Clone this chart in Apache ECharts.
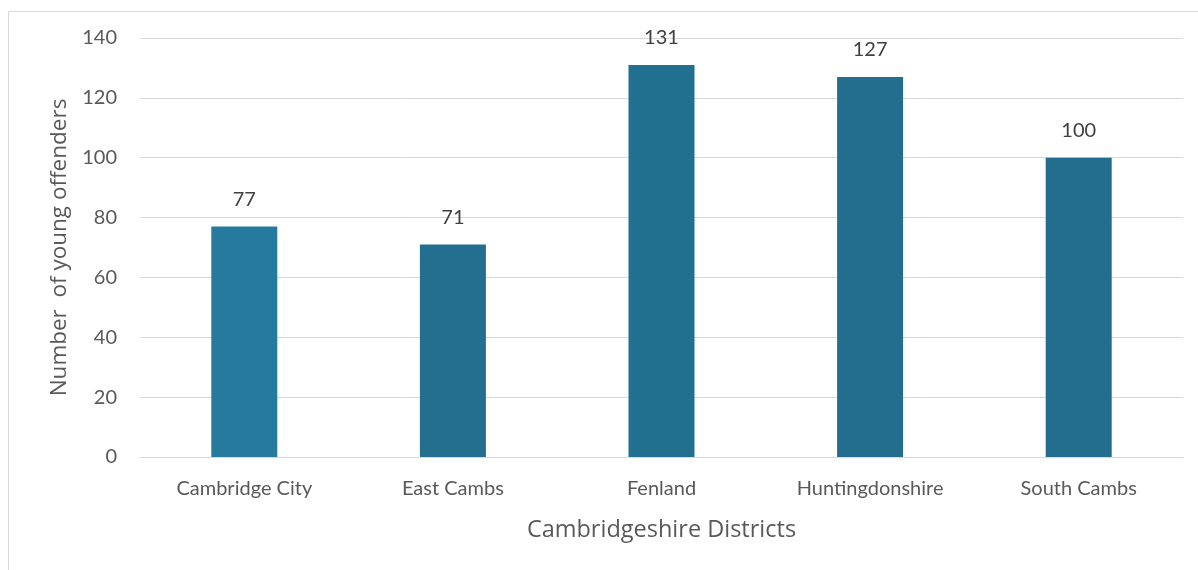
<!DOCTYPE html>
<html>
<head>
<meta charset="utf-8">
<script src="https://cdn.jsdelivr.net/npm/echarts@6/dist/echarts.min.js"></script>
<style>
html,body{margin:0;padding:0;background:#fff;}
#chart{width:1198px;height:570px;}
</style>
</head>
<body>
<div id="chart"></div>
<script>
const categories = ['Cambridge City', 'East Cambs', 'Fenland', 'Huntingdonshire', 'South Cambs'];
const offenders = [77, 71, 131, 127, 100];
const barColors = ['#257a9e', '#246f90', '#22708f', '#236e8e', '#236e8e'];
const yTicks = { min: 0, max: 140, interval: 20 };
const xTitle = 'Cambridgeshire Districts';
const yTitle = 'Number  of young offenders';

const chart = echarts.init(document.getElementById('chart'));
const font = 'Lato, "Open Sans", sans-serif';
const titleFont = '"Open Sans", Lato, sans-serif';
chart.setOption({
  animation: false,
  graphic: [{
    type: 'rect', silent: true,
    shape: { x: 8.5, y: 11.5, width: 1400, height: 800 },
    style: { fill: 'none', stroke: '#d9d9d9', lineWidth: 1 }
  }],
  grid: { left: 140, right: 15, top: 38, bottom: 113 },
  xAxis: {
    type: 'category',
    data: categories,
    name: xTitle,
    nameLocation: 'middle',
    nameGap: 61,
    nameTextStyle: { color: '#595959', fontSize: 23.5, fontFamily: titleFont },
    axisLine: { lineStyle: { color: '#d9d9d9' } },
    axisTick: { show: false },
    axisLabel: { color: '#595959', fontSize: 20, fontFamily: font, margin: 22 }
  },
  yAxis: {
    type: 'value',
    min: yTicks.min, max: yTicks.max, interval: yTicks.interval,
    name: yTitle,
    nameLocation: 'middle',
    nameGap: 69,
    nameTextStyle: { color: '#595959', fontSize: 22.5, fontFamily: titleFont },
    axisLine: { show: false },
    axisTick: { show: false },
    splitLine: { lineStyle: { color: '#d9d9d9' } },
    axisLabel: { color: '#595959', fontSize: 20, fontFamily: font, margin: 23 }
  },
  series: [{
    type: 'bar',
    barWidth: 66,
    data: offenders.map((v, i) => ({ value: v, itemStyle: { color: barColors[i] } })),
    label: {
      show: true, position: 'top', distance: 17,
      color: '#404040', fontSize: 20, fontFamily: font
    }
  }]
});
</script>
</body>
</html>
